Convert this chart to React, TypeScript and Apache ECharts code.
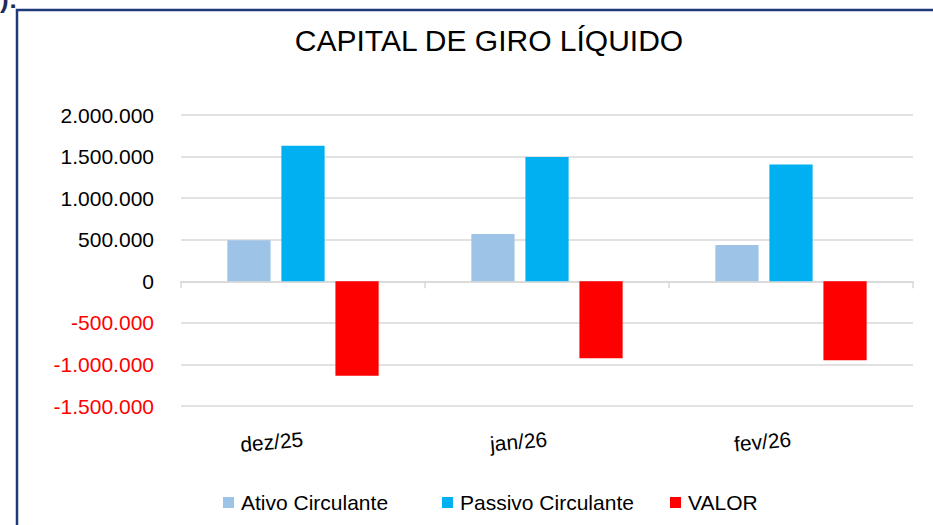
import React, { useEffect, useRef } from "react";
import * as echarts from "echarts";

const categories = ["dez/25", "jan/26", "fev/26"];
const ativoCirculante = [495000, 570000, 435000];
const passivoCirculante = [1630000, 1495000, 1405000];
const valor = [-1135000, -925000, -950000];
const seriesNames = ["Ativo Circulante", "Passivo Circulante", "VALOR"];
const seriesColors = ["#9DC3E6", "#00B0F0", "#FF0000"];
const titleText = "CAPITAL DE GIRO LÍQUIDO";

const FONT = "'Liberation Sans', Arial, sans-serif";

function fmt(v: number): string {
  const neg = v < 0;
  const s = Math.abs(Math.round(v)).toString().replace(/\B(?=(\d{3})+(?!\d))/g, ".");
  return (neg ? "-" : "") + s;
}

export default function App() {
  const ref = useRef<HTMLDivElement>(null);
  useEffect(() => {
    if (!ref.current) return;
    const chart = echarts.init(ref.current, undefined, { renderer: "svg" });
    const legendLefts = [218, 437, 665];
    chart.setOption({
      animation: false,
      backgroundColor: "#ffffff",
      title: {
        text: titleText,
        left: 484,
        textAlign: "center",
        top: 20,
        textStyle: { fontFamily: FONT, fontSize: 30, fontWeight: "normal", color: "#000" },
      },
      graphic: [
        {
          type: "rect",
          shape: { x: 17, y: 10, width: 1000, height: 600 },
          style: { fill: "none", stroke: "#1F3A7A", lineWidth: 2.5 },
          silent: true,
        },
        {
          type: "text",
          x: 0,
          y: -14,
          style: { text: "):", fontFamily: FONT, fontSize: 26, fontWeight: "bold", fill: "#1F2A5A" },
          silent: true,
        },
      ],
      legend: seriesNames.map((n, i) => ({
        data: [n],
        left: legendLefts[i],
        top: 487,
        itemWidth: 11,
        itemHeight: 11,
        icon: "rect",
        textStyle: { fontFamily: FONT, fontSize: 21, color: "#000", padding: [0, 0, 0, 2] },
      })),
      grid: { left: 181, right: 20, top: 115, bottom: 119 },
      xAxis: [
        {
          type: "category",
          data: categories,
          axisLine: { onZero: true, lineStyle: { color: "#D9D9D9", width: 1.5 } },
          axisTick: { show: true, length: 7, lineStyle: { color: "#D9D9D9", width: 1.5 } },
          axisLabel: { show: false },
        },
        {
          type: "category",
          data: categories,
          position: "bottom",
          axisLine: { show: false, onZero: false },
          axisTick: { show: false },
          axisLabel: {
            show: true,
            rotate: 5,
            margin: 33,
            fontFamily: FONT,
            fontSize: 21,
            color: "#000",
          },
        },
      ],
      yAxis: {
        type: "value",
        min: -1500000,
        max: 2000000,
        interval: 500000,
        axisLine: { show: false },
        axisTick: { show: false },
        splitLine: { lineStyle: { color: "#D9D9D9", width: 1.5 } },
        axisLabel: {
          margin: 27,
          fontFamily: FONT,
          fontSize: 21,
          formatter: (v: number) => fmt(v),
          color: (v: any) => (Number(v) < 0 ? "#FF0000" : "#000000"),
        },
      },
      series: [
        { name: seriesNames[0], type: "bar", data: ativoCirculante, itemStyle: { color: seriesColors[0] }, barGap: "25%", barCategoryGap: "38%" },
        { name: seriesNames[1], type: "bar", data: passivoCirculante, itemStyle: { color: seriesColors[1] }, barGap: "25%", barCategoryGap: "38%" },
        { name: seriesNames[2], type: "bar", data: valor, itemStyle: { color: seriesColors[2] }, barGap: "25%", barCategoryGap: "38%" },
      ],
    });
    return () => chart.dispose();
  }, []);
  return <div ref={ref} style={{ position: "fixed", left: 0, top: 0, width: 933, height: 525 }} />;
}
